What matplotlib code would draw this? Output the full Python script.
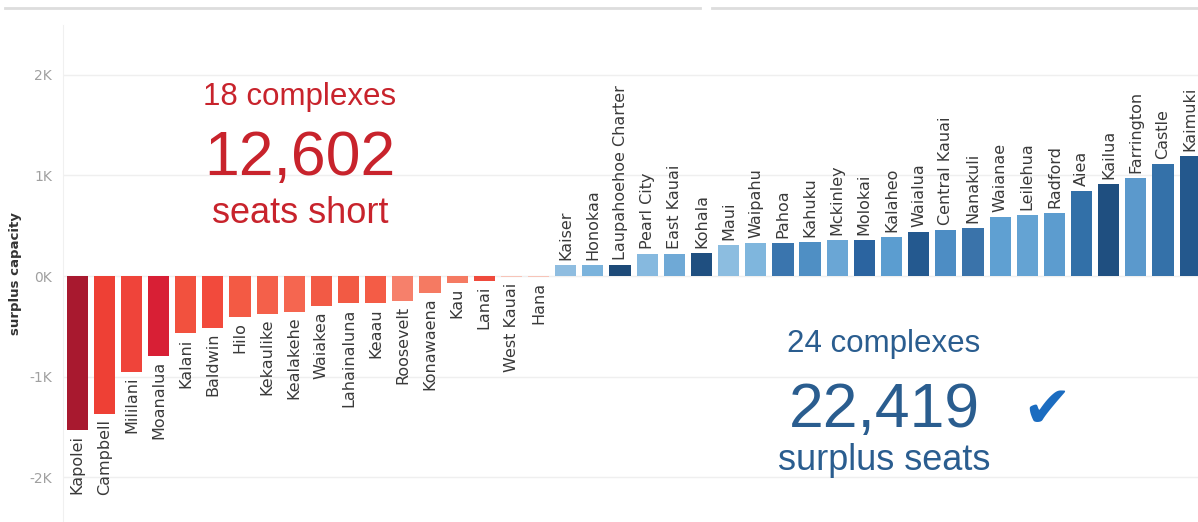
import matplotlib
matplotlib.use("Agg")
import matplotlib.pyplot as plt
from matplotlib.lines import Line2D

# schools with a seat shortage (negative surplus), largest shortage first
SHORT_NAMES = ["Kapolei", "Campbell", "Mililani", "Moanalua", "Kalani", "Baldwin",
               "Hilo", "Kekaulike", "Kealakehe", "Waiakea", "Lahainaluna", "Keaau",
               "Roosevelt", "Konawaena", "Kau", "Lanai", "West Kauai", "Hana"]
SHORT_VALUES = [-1530, -1370, -950, -790, -570, -515, -410, -375, -355, -300,
                -270, -270, -245, -165, -70, -50, -12, -12]
SHORT_COLORS = ["#a8192f", "#ee4035", "#ef443a", "#d81f35", "#f2513e", "#f24a3c",
                "#f35a44", "#f4604a", "#f56650", "#f25a45", "#f25a44", "#f45c46",
                "#f6806b", "#f57a62", "#f57a62", "#ef4a3c", "#f7c4b8", "#f7c4b8"]

# schools with surplus seats, smallest surplus first
SURPLUS_NAMES = ["Kaiser", "Honokaa", "Laupahoehoe Charter", "Pearl City", "East Kauai",
                 "Kohala", "Maui", "Waipahu", "Pahoa", "Kahuku", "Mckinley", "Molokai",
                 "Kalaheo", "Waialua", "Central Kauai", "Nanakuli", "Waianae", "Leilehua",
                 "Radford", "Aiea", "Kailua", "Farrington", "Castle", "Kaimuki"]
SURPLUS_VALUES = [107, 107, 107, 215, 215, 232, 307, 325, 330, 337, 355, 355,
                  390, 437, 457, 480, 586, 606, 629, 844, 910, 970, 1110, 1192]
SURPLUS_COLORS = ["#8fbde0", "#7bb3dc", "#1d4a78", "#86b9df", "#6fa9d6", "#1f4f80",
                  "#8cbde0", "#7fb6dd", "#3a75ae", "#4f8fc4", "#6aa6d5", "#2b64a0",
                  "#5b9dd0", "#24598f", "#4d8dc4", "#3a73aa", "#5fa0d2", "#64a3d3",
                  "#5c9ccf", "#3270a8", "#1f4f80", "#5b99cc", "#3471a9", "#24588d"]

Y_TICKS = [-2000, -1000, 0, 1000, 2000]
Y_TICK_LABELS = ["-2K", "-1K", "0K", "1K", "2K"]

RED_TEXT = "#c8232c"
BLUE_TEXT = "#2a5d8f"
CHECK = "#1b6cc0"
GRID = "#efefef"
LABEL_FONT = "DejaVu Sans"
HEAD_FONT = "Liberation Sans"

W, H = 1198, 522


def fx(px):
    return px / W


def fy(py):
    return 1 - py / H


def main():
    names = SHORT_NAMES + SURPLUS_NAMES
    values = SHORT_VALUES + SURPLUS_VALUES
    colors = SHORT_COLORS + SURPLUS_COLORS
    xs = list(range(len(names)))

    fig = plt.figure(figsize=(W / 100, H / 100), dpi=100, facecolor="white")
    ax = fig.add_axes([fx(63), 0, 1 - fx(63), fy(25)])
    ax.set_facecolor("white")

    ax.bar(xs, values, width=0.78, color=colors, zorder=3)

    pad = 50
    for x, name, v in zip(xs, names, values):
        if v < 0:
            ax.text(x, v - pad, name, rotation=90, ha="center", va="top",
                    fontsize=11.5, family=LABEL_FONT, color="#3a3a3a", zorder=4)
        else:
            ax.text(x, v + pad, name, rotation=90, ha="center", va="bottom",
                    fontsize=11.5, family=LABEL_FONT, color="#3a3a3a", zorder=4)

    ax.set_xlim(-0.52, 41.29)
    ax.set_ylim(-2443, 2493)
    ax.set_xticks([])
    ax.set_yticks(Y_TICKS)
    ax.set_yticklabels(Y_TICK_LABELS)
    ax.tick_params(axis="y", length=0, pad=8, labelsize=10, labelcolor="#a0a0a0")
    ax.grid(True, axis="y", color=GRID, linewidth=1, zorder=0)
    for spine in ("top", "right", "bottom"):
        ax.spines[spine].set_visible(False)
    ax.spines["left"].set_color("#f0f0f0")
    ax.set_ylabel("surplus capacity", fontsize=9.5, color="#333333", fontweight="bold",
                  labelpad=5)

    # headline numbers
    fig.text(fx(300), fy(105), "18 complexes", ha="center", va="baseline",
             fontsize=22.5, family=HEAD_FONT, color=RED_TEXT)
    fig.text(fx(300), fy(175), "12,602", ha="center", va="baseline",
             fontsize=45, family=HEAD_FONT, color=RED_TEXT)
    fig.text(fx(300), fy(223), "seats short", ha="center", va="baseline",
             fontsize=26, family=HEAD_FONT, color=RED_TEXT)

    fig.text(fx(884), fy(352), "24 complexes", ha="center", va="baseline",
             fontsize=22.5, family=HEAD_FONT, color=BLUE_TEXT)
    fig.text(fx(884), fy(427), "22,419", ha="center", va="baseline",
             fontsize=45, family=HEAD_FONT, color=BLUE_TEXT)
    fig.text(fx(884), fy(470), "surplus seats", ha="center", va="baseline",
             fontsize=26, family=HEAD_FONT, color=BLUE_TEXT)
    fig.text(fx(1047), fy(411), "\u2714", ha="center", va="center",
             fontsize=42, family="DejaVu Sans", color=CHECK)

    # panel separators at the top
    fig.add_artist(Line2D([fx(5), fx(700)], [fy(8), fy(8)], color="#dddddd", linewidth=2))
    fig.add_artist(Line2D([fx(712), fx(1198)], [fy(8), fy(8)], color="#dddddd", linewidth=2))

    fig.savefig("out.png", dpi=100, facecolor="white")
    plt.close(fig)


if __name__ == "__main__":
    main()
